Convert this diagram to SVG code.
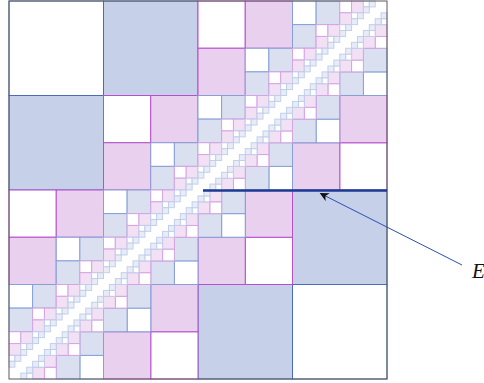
<svg xmlns="http://www.w3.org/2000/svg" xmlns:xlink="http://www.w3.org/1999/xlink" width="484" height="383" viewBox="0 0 484 383">
<style>
rect{stroke-width:1}
.w2{fill:#fff;stroke:#4a6cb8}.f2{fill:#c6d0e8;stroke:#4a6cb8}
.w3{fill:#fff;stroke:#b84fcc}.f3{fill:#e9d0ee;stroke:#b84fcc}
.w4{fill:#fff;stroke:#86a0d6}.f4{fill:#dae0f0;stroke:#86a0d6}
.w5{fill:#fff;stroke:#d7a4e2}.f5{fill:#f2e0f5;stroke:#d7a4e2}
.w6{fill:#fff;stroke:#c2cfeb}.f6{fill:#e8ecf7;stroke:#c2cfeb}
.lbl{font-family:"Liberation Serif","DejaVu Serif",serif;font-style:italic;font-size:21px;fill:#111}
</style>
<defs>
<g id="C6"></g>
<g id="D6"></g>
<g id="C5"><rect class="w6" x="0" y="0" width="5.90625" height="5.90625"/><rect class="f6" x="5.90625" y="0" width="5.90625" height="5.90625"/><rect class="f6" x="0" y="5.90625" width="5.90625" height="5.90625"/><use xlink:href="#C6" x="5.90625" y="5.90625"/></g>
<g id="C4"><rect class="w5" x="0" y="0" width="11.8125" height="11.8125"/><rect class="f5" x="11.8125" y="0" width="11.8125" height="11.8125"/><rect class="f5" x="0" y="11.8125" width="11.8125" height="11.8125"/><use xlink:href="#C5" x="11.8125" y="11.8125"/></g>
<g id="C3"><rect class="w4" x="0" y="0" width="23.625" height="23.625"/><rect class="f4" x="23.625" y="0" width="23.625" height="23.625"/><rect class="f4" x="0" y="23.625" width="23.625" height="23.625"/><use xlink:href="#C4" x="23.625" y="23.625"/></g>
<g id="C2"><rect class="w3" x="0" y="0" width="47.25" height="47.25"/><rect class="f3" x="47.25" y="0" width="47.25" height="47.25"/><rect class="f3" x="0" y="47.25" width="47.25" height="47.25"/><use xlink:href="#C3" x="47.25" y="47.25"/></g>
<g id="C1"><rect class="w2" x="0" y="0" width="94.5" height="94.5"/><rect class="f2" x="94.5" y="0" width="94.5" height="94.5"/><rect class="f2" x="0" y="94.5" width="94.5" height="94.5"/><use xlink:href="#C2" x="94.5" y="94.5"/></g>
<g id="D5"><use xlink:href="#C6"/><use xlink:href="#C6" transform="translate(11.8125,11.8125) rotate(180)"/><use xlink:href="#D6" x="5.90625"/><use xlink:href="#D6" y="5.90625"/></g>
<g id="D4"><use xlink:href="#C5"/><use xlink:href="#C5" transform="translate(23.625,23.625) rotate(180)"/><use xlink:href="#D5" x="11.8125"/><use xlink:href="#D5" y="11.8125"/></g>
<g id="D3"><use xlink:href="#C4"/><use xlink:href="#C4" transform="translate(47.25,47.25) rotate(180)"/><use xlink:href="#D4" x="23.625"/><use xlink:href="#D4" y="23.625"/></g>
<g id="D2"><use xlink:href="#C3"/><use xlink:href="#C3" transform="translate(94.5,94.5) rotate(180)"/><use xlink:href="#D3" x="47.25"/><use xlink:href="#D3" y="47.25"/></g>
<g id="D1"><use xlink:href="#C2"/><use xlink:href="#C2" transform="translate(189,189) rotate(180)"/><use xlink:href="#D2" x="94.5"/><use xlink:href="#D2" y="94.5"/></g>
<marker id="ah" viewBox="0 0 10 10" refX="9" refY="5" markerWidth="9" markerHeight="9" markerUnits="userSpaceOnUse" orient="auto"><path d="M0,0 L10,5 L0,10 L3,5 Z" fill="#111"/></marker>
</defs>
<rect width="484" height="383" fill="#fff"/>
<g id="matrix" transform="translate(9,1)">
<rect x="0" y="0" width="378" height="378" fill="#fff" stroke="none"/>
<g id="quad-tl"><use xlink:href="#C1"/></g>
<g id="quad-br"><use xlink:href="#C1" transform="translate(378,378) rotate(180)"/></g>
<g id="quad-tr"><use xlink:href="#D1" x="189"/></g>
<g id="quad-bl"><use xlink:href="#D1" y="189"/></g>
<rect x="0" y="0" width="378" height="378" fill="none" stroke="#5a5a5a" stroke-width="1.4"/>
</g>
<g id="connectors">
<line x1="203" y1="190.5" x2="387" y2="190.5" stroke="#1b3a94" stroke-width="2.6"/>
<line x1="462" y1="265" x2="320.5" y2="193.5" stroke="#2c4fb0" stroke-width="1" marker-end="url(#ah)"/>
</g>
<g id="label-E"><text class="lbl" x="472" y="278">E</text></g>
</svg>
